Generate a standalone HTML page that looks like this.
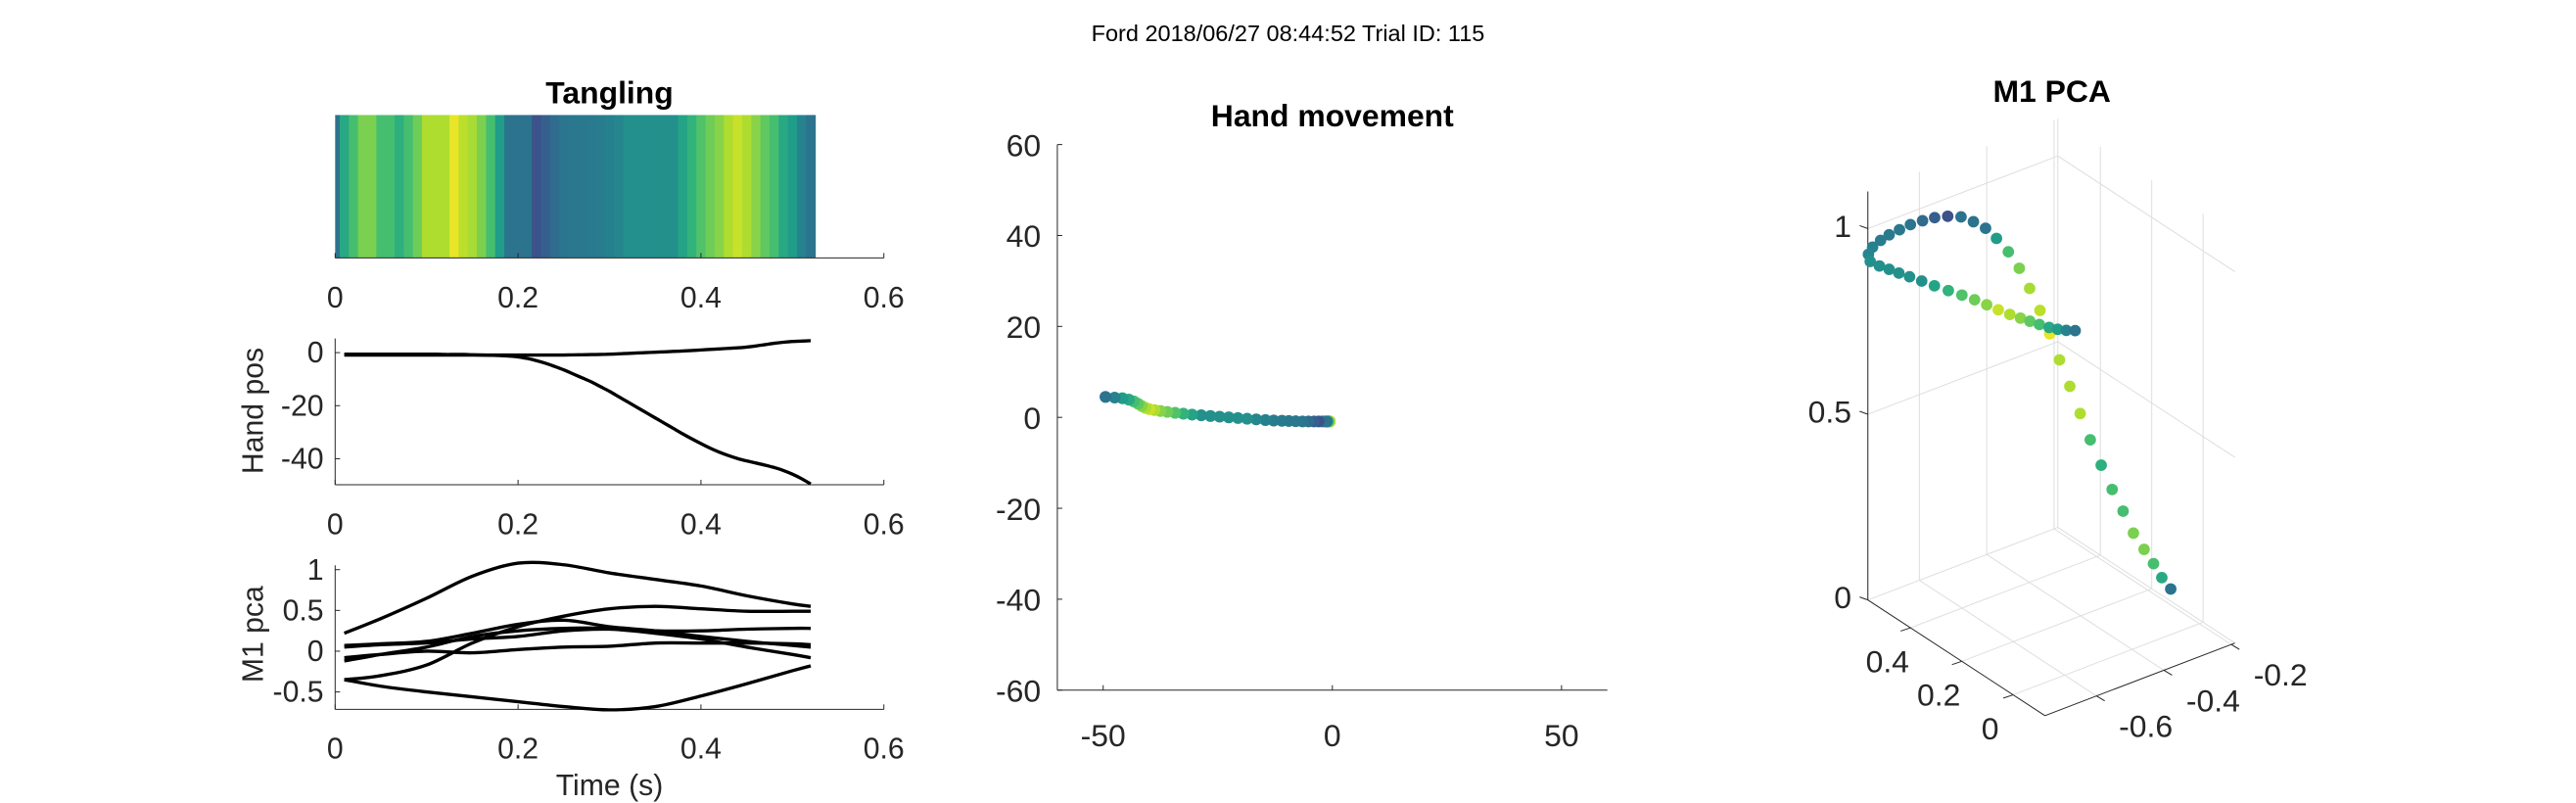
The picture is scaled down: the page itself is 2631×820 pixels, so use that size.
<!DOCTYPE html>
<html><head><meta charset="utf-8"><style>
html,body{margin:0;padding:0;background:#fff;}
svg{display:block;}
text{font-family:"Liberation Sans",Arial,sans-serif;fill:#262626;}
</style></head><body>
<svg id="fig" width="2631" height="820" viewBox="0 0 1568 488.7" xmlns="http://www.w3.org/2000/svg">
<rect width="1568" height="488.7" fill="#fff"/>
<text x="784" y="25" text-anchor="middle" font-size="14" style="fill:#000">Ford 2018/06/27 08:44:52 Trial ID: 115</text>
<g id="g1"></g><g id="g2"></g><g id="g3"></g><g id="g4"></g><g id="g5"></g>
</svg>
<script>
// ---- data ----
const tangling = [0.38,0.6,0.7,0.8,0.8,0.7,0.7,0.63,0.7,0.78,0.88,0.88,0.88,0.97,0.9,0.87,0.8,0.7,0.55,0.38,0.38,0.38,0.25,0.3,0.35,0.39,0.4,0.4,0.41,0.42,0.44,0.46,0.5,0.5,0.5,0.5,0.5,0.5,0.58,0.65,0.72,0.78,0.82,0.88,0.92,0.88,0.82,0.75,0.7,0.6,0.55,0.45,0.38];
const tanglingBinWidth = 0.01;
const handTime = [0.01,0.02,0.03,0.04,0.05,0.06,0.07,0.08,0.09,0.10,0.11,0.12,0.13,0.14,0.15,0.16,0.17,0.18,0.19,0.20,0.21,0.22,0.23,0.24,0.25,0.26,0.27,0.28,0.29,0.30,0.31,0.32,0.33,0.34,0.35,0.36,0.37,0.38,0.39,0.40,0.41,0.42,0.43,0.44,0.45,0.46,0.47,0.48,0.49,0.50,0.51,0.52];
const handX = [-0.6,-0.6,-0.6,-0.6,-0.6,-0.6,-0.6,-0.6,-0.6,-0.6,-0.6,-0.7,-0.7,-0.7,-0.8,-0.9,-1.0,-1.1,-1.3,-1.6,-2.2,-3.0,-4.0,-5.2,-6.5,-8,-9.5,-11,-12.8,-14.6,-16.6,-18.6,-20.6,-22.6,-24.6,-26.6,-28.6,-30.6,-32.5,-34.3,-36,-37.5,-38.8,-39.9,-40.8,-41.6,-42.4,-43.3,-44.4,-45.8,-47.5,-49.5];
const handY = [-0.9,-0.9,-0.9,-0.9,-0.9,-0.9,-0.9,-0.9,-0.9,-0.9,-0.9,-0.9,-0.9,-0.9,-0.9,-0.9,-0.9,-0.9,-0.9,-0.9,-0.9,-0.9,-0.9,-0.9,-0.9,-0.85,-0.8,-0.75,-0.7,-0.6,-0.45,-0.3,-0.15,0,0.15,0.3,0.45,0.6,0.8,1.0,1.2,1.4,1.6,1.8,2.1,2.5,3.0,3.5,3.9,4.2,4.35,4.5];
const pcaTime = [0.01,0.05,0.1,0.15,0.2,0.25,0.3,0.35,0.4,0.45,0.5,0.52];
const pc1 = [0.22,0.4,0.65,0.92,1.08,1.06,0.96,0.88,0.8,0.68,0.58,0.55];
const pc2 = [-0.35,-0.3,-0.17,0.1,0.3,0.43,0.52,0.55,0.52,0.49,0.49,0.49];
const pc3 = [-0.35,-0.43,-0.5,-0.56,-0.62,-0.68,-0.72,-0.68,-0.55,-0.4,-0.24,-0.18];
const pc4 = [0.07,0.09,0.12,0.22,0.33,0.38,0.3,0.25,0.18,0.12,0.07,0.05];
const pc5 = [-0.12,-0.04,0.05,0.18,0.25,0.28,0.28,0.25,0.25,0.27,0.28,0.28];
const pc6 = [0.05,0.08,0.1,0.15,0.18,0.25,0.27,0.22,0.15,0.05,-0.04,-0.08];
const pc7 = [-0.08,-0.04,0.0,-0.02,0.02,0.05,0.06,0.1,0.1,0.1,0.09,0.08];
const m1x = [-0.250,-0.265,-0.279,-0.294,-0.312,-0.329,-0.347,-0.365,-0.383,-0.400,-0.417,-0.434,-0.450,-0.466,-0.483,-0.500,-0.518,-0.538,-0.556,-0.576,-0.596,-0.618,-0.640,-0.660,-0.680,-0.698,-0.715,-0.729,-0.742,-0.749,-0.746,-0.731,-0.715,-0.699,-0.681,-0.661,-0.640,-0.617,-0.595,-0.574,-0.554,-0.535,-0.516,-0.498,-0.483,-0.467,-0.451,-0.437,-0.423,-0.408];
const m1y = [0.046,0.061,0.075,0.092,0.110,0.128,0.147,0.166,0.185,0.202,0.220,0.238,0.255,0.272,0.290,0.308,0.327,0.347,0.366,0.387,0.409,0.432,0.454,0.475,0.496,0.515,0.533,0.548,0.562,0.569,0.566,0.550,0.533,0.516,0.498,0.477,0.455,0.431,0.407,0.385,0.364,0.344,0.324,0.306,0.289,0.273,0.256,0.241,0.226,0.211];
const m1z = [0.090,0.119,0.155,0.191,0.233,0.290,0.346,0.409,0.475,0.544,0.615,0.684,0.752,0.813,0.870,0.922,0.964,0.998,1.023,1.038,1.048,1.047,1.041,1.030,1.017,1.001,0.985,0.968,0.948,0.928,0.909,0.899,0.892,0.884,0.876,0.867,0.857,0.847,0.838,0.828,0.817,0.806,0.796,0.788,0.782,0.775,0.769,0.766,0.765,0.766];
const timeTicks = [0,0.2,0.4,0.6];
const timeTickLabels = ["0","0.2","0.4","0.6"];
const handPosTicks = [0,-20,-40];
const pcaTicks = [1,0.5,0,-0.5];
const pcaTickLabels = ["1","0.5","0","-0.5"];
const moveYTicks = [60,40,20,0,-20,-40,-60];
const moveXTicks = [-50,0,50];
const m1zTicks = [0,0.5,1];
const m1yTicks = [0,0.2,0.4];
const m1xTicks = [-0.6,-0.4,-0.2];

// ---- helpers ----
const NS="http://www.w3.org/2000/svg";
function mk(parent,tag,attrs,txt){const e=document.createElementNS(NS,tag);for(const k in attrs)e.setAttribute(k,attrs[k]);if(txt!==undefined)e.textContent=txt;parent.appendChild(e);return e;}
const VIR=[[68,1,84],[72,40,120],[62,74,137],[49,104,142],[38,130,142],[31,158,137],[53,183,121],[109,205,89],[180,222,44],[253,231,37]];
function viridis(v){v=Math.max(0,Math.min(1,v));const p=v*(VIR.length-1),i=Math.min(VIR.length-2,Math.floor(p)),f=p-i;const c=VIR[i].map((a,k)=>Math.round(a+(VIR[i+1][k]-a)*f));return `rgb(${c[0]},${c[1]},${c[2]})`;}
function smoothPath(pts){
  let d='M'+pts[0][0].toFixed(2)+','+pts[0][1].toFixed(2);
  for(let i=0;i<pts.length-1;i++){
    const p0=pts[Math.max(0,i-1)],p1=pts[i],p2=pts[i+1],p3=pts[Math.min(pts.length-1,i+2)];
    const c1=[p1[0]+(p2[0]-p0[0])/6,p1[1]+(p2[1]-p0[1])/6],c2=[p2[0]-(p3[0]-p1[0])/6,p2[1]-(p3[1]-p1[1])/6];
    d+='C'+c1[0].toFixed(2)+','+c1[1].toFixed(2)+' '+c2[0].toFixed(2)+','+c2[1].toFixed(2)+' '+p2[0].toFixed(2)+','+p2[1].toFixed(2);
  }
  return d;
}
const AX="#262626";

// ---- panel 1: tangling heatmap ----
const g1=document.getElementById('g1');
const tx0=204, tx1=538, tMax=0.6;
const xT=t=>tx0+(t/tMax)*(tx1-tx0);
const heatTop=70, heatBot=157;
let t1=mk(g1,'text',{x:371,y:63,'text-anchor':'middle','font-size':19,'font-weight':'bold',style:'fill:#000'},'Tangling');


tangling.forEach((v,i)=>{
  const a=Math.max(0,i*tanglingBinWidth-tanglingBinWidth/2), b=i*tanglingBinWidth+tanglingBinWidth/2;
  const r=mk(g1,'rect',{x:xT(a),y:heatTop,width:xT(b)-xT(a)+0.3,height:heatBot-heatTop,fill:viridis(v)});
  
  
});
function xAxis(g,y,name){
  const l=mk(g,'line',{x1:tx0,y1:y,x2:tx1,y2:y,stroke:AX,'stroke-width':0.6});
  
  
  timeTicks.forEach((t,i)=>{
    mk(g,'line',{x1:xT(t),y1:y,x2:xT(t),y2:y-3,stroke:AX,'stroke-width':0.6});
    const lb=mk(g,'text',{x:xT(t),y:y+30,'text-anchor':'middle','font-size':18},timeTickLabels[i]);
    
    
  });
}
xAxis(g1,heatBot,'tangling');

// ---- panel 1b: hand pos ----
const g2=document.getElementById('g2');
const hpY=v=>214.6-v*1.615;
const hpTop=206, hpBot=295;
xAxis(g2,hpBot,'hand-pos');
let yl=mk(g2,'line',{x1:tx0,y1:hpTop,x2:tx0,y2:hpBot,stroke:AX,'stroke-width':0.6});


handPosTicks.forEach(v=>{
  mk(g2,'line',{x1:tx0,y1:hpY(v),x2:tx0+3,y2:hpY(v),stroke:AX,'stroke-width':0.6});
  const lb=mk(g2,'text',{x:197,y:hpY(v)+6,'text-anchor':'end','font-size':18},String(v));
  
  
});
let hl=mk(g2,'text',{x:0,y:0,'text-anchor':'middle','font-size':18,transform:'translate(160,250) rotate(-90)'},'Hand pos');


[handX,handY].forEach((arr,k)=>{
  const p=mk(g2,'path',{d:smoothPath(arr.map((v,i)=>[xT(handTime[i]),hpY(v)])),fill:'none',stroke:'#000','stroke-width':2,'stroke-linejoin':'round'});
  
  
});

// ---- panel 1c: M1 pca ----
const g3=document.getElementById('g3');
const pY=v=>396.3-v*49.6;
const pTop=344, pBot=431.7;
xAxis(g3,pBot,'m1-pca');
let yl3=mk(g3,'line',{x1:tx0,y1:pTop,x2:tx0,y2:pBot,stroke:AX,'stroke-width':0.6});


pcaTicks.forEach((v,i)=>{
  mk(g3,'line',{x1:tx0,y1:pY(v),x2:tx0+3,y2:pY(v),stroke:AX,'stroke-width':0.6});
  const lb=mk(g3,'text',{x:197,y:pY(v)+6,'text-anchor':'end','font-size':18},pcaTickLabels[i]);
  
  
});
let pl=mk(g3,'text',{x:0,y:0,'text-anchor':'middle','font-size':18,transform:'translate(160,386) rotate(-90)'},'M1 pca');


let tl=mk(g3,'text',{x:371,y:484,'text-anchor':'middle','font-size':18},'Time (s)');


[pc1,pc2,pc3,pc4,pc5,pc6,pc7].forEach((arr,k)=>{
  const p=mk(g3,'path',{d:smoothPath(arr.map((v,i)=>[xT(pcaTime[i]),pY(v)])),fill:'none',stroke:'#000','stroke-width':2,'stroke-linejoin':'round'});
  
  
});

// ---- panel 2: hand movement ----
const g4=document.getElementById('g4');
const mX=v=>811+v*2.79, mY=v=>254-v*2.767;
let t4=mk(g4,'text',{x:811,y:77,'text-anchor':'middle','font-size':19,'font-weight':'bold',style:'fill:#000'},'Hand movement');


let ya=mk(g4,'line',{x1:mX(-60),y1:mY(60),x2:mX(-60),y2:mY(-60),stroke:AX,'stroke-width':0.6});


let xa=mk(g4,'line',{x1:mX(-60),y1:mY(-60),x2:mX(60),y2:mY(-60),stroke:AX,'stroke-width':0.6});


moveYTicks.forEach(v=>{
  mk(g4,'line',{x1:mX(-60),y1:mY(v),x2:mX(-60)+3,y2:mY(v),stroke:AX,'stroke-width':0.6});
  const lb=mk(g4,'text',{x:mX(-60)-10,y:mY(v)+7,'text-anchor':'end','font-size':19},String(v));
  
  
});
moveXTicks.forEach(v=>{
  mk(g4,'line',{x1:mX(v),y1:mY(-60),x2:mX(v),y2:mY(-60)-3,stroke:AX,'stroke-width':0.6});
  const lb=mk(g4,'text',{x:mX(v),y:mY(-60)+34,'text-anchor':'middle','font-size':19},String(v));
  
  
});
handX.forEach((v,i)=>{
  const c=mk(g4,'circle',{cx:mX(v),cy:mY(handY[i]),r:3.6,fill:viridis(tangling[i+1])});
  
  
});

// ---- panel 3: M1 PCA 3D ----
const g5=document.getElementById('g5');
const XL=[-0.753,-0.189], YL=[-0.124,0.566], ZL=[0,1.1];
function proj(x,y,z){
  const zx=339+918.4*(x-XL[0])-700*(y-YL[1]);
  const zy=1148-274.8*(x-XL[0])-358*(y-YL[1])-793*z;
  return [1061.3+0.2232*zx, 37.95+0.285*zy];
}
function seg(g,a,b,col,w,name){const p=proj(...a),q=proj(...b);const l=mk(g,'line',{x1:p[0],y1:p[1],x2:q[0],y2:q[1],stroke:col,'stroke-width':w});return l;}
let t5=mk(g5,'text',{x:1249,y:62,'text-anchor':'middle','font-size':19,'font-weight':'bold',style:'fill:#000'},'M1 PCA');


const GC="#dedede";
m1xTicks.forEach(x=>{seg(g5,[x,YL[1],ZL[0]],[x,YL[1],ZL[1]],GC,0.6,'grid-line');seg(g5,[x,YL[0],ZL[0]],[x,YL[1],ZL[0]],GC,0.6,'grid-line');});
m1yTicks.forEach(y=>{seg(g5,[XL[1],y,ZL[0]],[XL[1],y,ZL[1]],GC,0.6,'grid-line');seg(g5,[XL[0],y,ZL[0]],[XL[1],y,ZL[0]],GC,0.6,'grid-line');});
m1zTicks.forEach(z=>{seg(g5,[XL[0],YL[1],z],[XL[1],YL[1],z],GC,0.6,'grid-line');seg(g5,[XL[1],YL[1],z],[XL[1],YL[0],z],GC,0.6,'grid-line');});
seg(g5,[XL[1],YL[1],ZL[0]],[XL[1],YL[1],ZL[1]],GC,0.6,'grid-line');
seg(g5,[XL[0],YL[1],ZL[0]],[XL[0],YL[1],ZL[1]],AX,0.6,'z-axis');
seg(g5,[XL[0],YL[1],ZL[0]],[XL[0],YL[0],ZL[0]],AX,0.6,'y-axis');
seg(g5,[XL[0],YL[0],ZL[0]],[XL[1],YL[0],ZL[0]],AX,0.6,'x-axis');
m1zTicks.forEach(z=>{
  const p=proj(XL[0],YL[1],z);
  mk(g5,'line',{x1:p[0]-5,y1:p[1]-1.8,x2:p[0],y2:p[1],stroke:AX,'stroke-width':0.6});
  const lb=mk(g5,'text',{x:p[0]-10,y:p[1]+5,'text-anchor':'end','font-size':19},String(z));
  
  
});
m1yTicks.forEach(y=>{
  const p=proj(XL[0],y,ZL[0]);
  mk(g5,'line',{x1:p[0],y1:p[1],x2:p[0]-6,y2:p[1]+2,stroke:AX,'stroke-width':0.6});
  const lb=mk(g5,'text',{x:p[0]-14,y:p[1]+27,'text-anchor':'middle','font-size':19},String(y));
  
  
});
m1xTicks.forEach(x=>{
  const p=proj(x,YL[0],ZL[0]);
  mk(g5,'line',{x1:p[0],y1:p[1],x2:p[0]+5,y2:p[1]+3,stroke:AX,'stroke-width':0.6});
  const lb=mk(g5,'text',{x:p[0]+30,y:p[1]+25,'text-anchor':'middle','font-size':19},String(x));
  
  
});
m1x.forEach((x,i)=>{
  const p=proj(x,m1y[i],m1z[i]);
  const ti=Math.round(i*(tangling.length-1)/(m1x.length-1));
  const c=mk(g5,'circle',{cx:p[0],cy:p[1],r:3.5,fill:viridis(tangling[ti])});
  
  
});
</script>
</body></html>
